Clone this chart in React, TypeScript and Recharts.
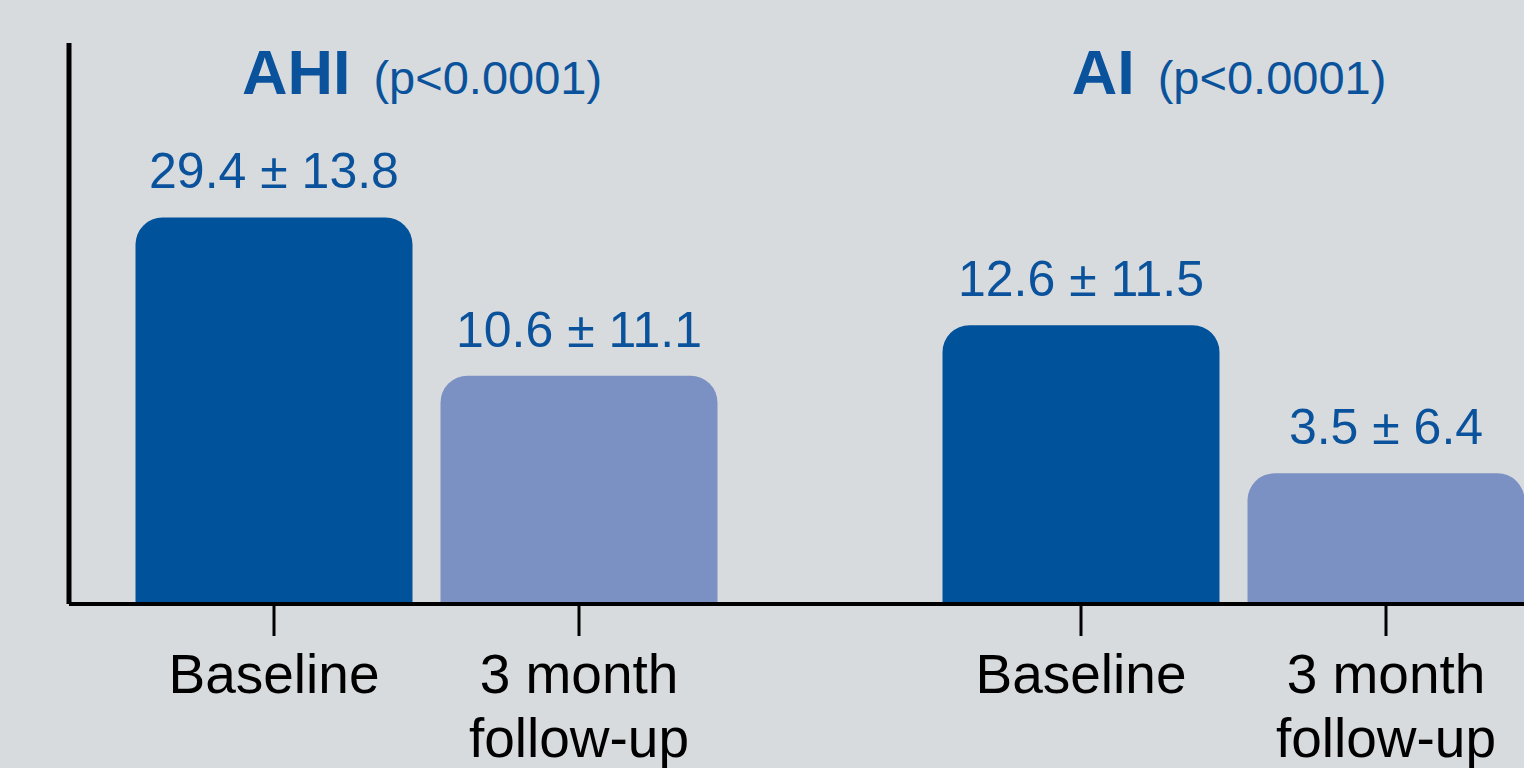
import { BarChart, Bar, XAxis, YAxis, LabelList } from 'recharts';

// drawn bar heights, read off the picture as % of the y-axis height
// (the bars are illustrative; the printed mean ± SD is what the labels show)
const groups = ['AHI', 'AI'];
const pValues = ['(p<0.0001)', '(p<0.0001)'];
const baselineHeight = [68.9, 49.7];
const followUpHeight = [40.7, 23.3];
const baselineMean = ['29.4', '12.6'];
const baselineSd = ['13.8', '11.5'];
const followUpMean = ['10.6', '3.5'];
const followUpSd = ['11.1', '6.4'];
const baselineLabel = ['Baseline'];
const followUpLabel = ['3 month', 'follow-up'];

const BG = '#d8dbde';
const DARK = '#00529b';
const LIGHT = '#7b91c4';
const TEXT_BLUE = '#0a539c';
const FONT = '"Liberation Sans", Arial, Helvetica, sans-serif';

const data = groups.map((g, i) => ({
  group: g,
  p: pValues[i],
  baseline: baselineHeight[i],
  followUp: followUpHeight[i],
  baselineText: `${baselineMean[i]} ± ${baselineSd[i]}`,
  followUpText: `${followUpMean[i]} ± ${followUpSd[i]}`,
}));

function ValueLabel(props: any) {
  const { x, y, width, value } = props;
  return (
    <text x={x + width / 2} y={y - 29} textAnchor="middle" fill={TEXT_BLUE} fontFamily={FONT} fontSize={50}>
      {value}
    </text>
  );
}

function makeBottomLabel(lines: string[]) {
  return function BottomLabel(props: any) {
    const { x, y, width, height } = props;
    const cx = x + width / 2;
    const base = y + height;
    return (
      <g>
        <line x1={cx} x2={cx} y1={base + 2} y2={base + 32} stroke="#000" strokeWidth={3} />
        {lines.map((line, i) => (
          <text key={i} x={cx} y={base + 89 + i * 64} textAnchor="middle" fill="#000" fontFamily={FONT} fontSize={55}>
            {line}
          </text>
        ))}
      </g>
    );
  };
}

function TitleTick(props: any) {
  const { x, y, payload, index } = props;
  return (
    <text x={x - 4} y={y + 51} textAnchor="middle" fill={TEXT_BLUE} fontFamily={FONT}>
      <tspan fontWeight="bold" fontSize={63}>{payload.value}</tspan>
      <tspan fontSize={47} dx={10}> {pValues[index]}</tspan>
    </text>
  );
}

export default function App() {
  return (
    <div style={{ position: 'fixed', left: 0, top: 0, width: 1524, height: 768, overflow: 'hidden', background: BG }}>
      <BarChart
        width={1524}
        height={768}
        data={data}
        margin={{ top: 13, right: 0, bottom: 134, left: 0 }}
        barGap={28}
      >
        <XAxis
          xAxisId="top"
          orientation="top"
          dataKey="group"
          height={30}
          padding={{ left: -46.5, right: -112.5 }}
          axisLine={false}
          tickLine={false}
          tickSize={0}
          tickMargin={0}
          tick={<TitleTick />}
          interval={0}
        />
        <XAxis
          dataKey="group"
          height={30}
          padding={{ left: -46.5, right: -112.5 }}
          axisLine={{ stroke: '#000', strokeWidth: 4 }}
          tickLine={false}
          tick={false}
        />
        <YAxis
          type="number"
          domain={[0, 100]}
          width={69}
          axisLine={{ stroke: '#000', strokeWidth: 5 }}
          tickLine={false}
          tick={false}
        />
        <Bar dataKey="baseline" fill={DARK} barSize={277} radius={[27, 27, 0, 0]} isAnimationActive={false}>
          <LabelList dataKey="baselineText" content={<ValueLabel />} />
          <LabelList dataKey="group" content={makeBottomLabel(baselineLabel)} />
        </Bar>
        <Bar dataKey="followUp" fill={LIGHT} barSize={277} radius={[27, 27, 0, 0]} isAnimationActive={false}>
          <LabelList dataKey="followUpText" content={<ValueLabel />} />
          <LabelList dataKey="group" content={makeBottomLabel(followUpLabel)} />
        </Bar>
      </BarChart>
    </div>
  );
}
